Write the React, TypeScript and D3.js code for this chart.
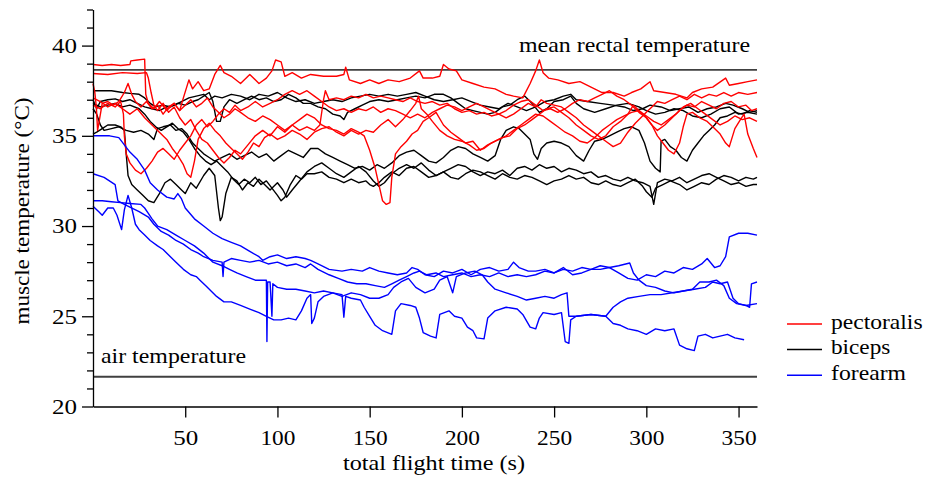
import React, { useRef, useEffect } from "react";
import * as d3 from "d3";

type Pt = [number, number]; // [total flight time s, muscle temperature °C]

// pectoralis traces (red)
const pect1: Pt[] = [[0,38.95],[5,38.9],[10,38.95],[15,38.9],[20,38.95],[20.5,39.15],[24,39.2],[28,39.25],[28.6,37.3],[30,36.8],[33,36.5],[36,36.9],[40,36.4],[44,36.8],[47,36.4],[49,37.1],[52,38.1],[54,37.6],[57,38.0],[60,37.5],[63,37.6],[66,38.4],[69,38.9],[71,38.5],[75,38.3],[80,37.9],[85,38.4],[90,37.9],[94,38.2],[97,38.6],[99,39.2],[102,39.1],[104,38.3],[108,38.5],[113,38.2],[118,38.4],[125,38.3],[132,38.3],[136,38.4],[137,38.8],[139,38.1],[145,37.9],[150,38.1],[155,37.9],[160,38.1],[166,38.0],[172,38.2],[177,38.6],[179,38.2],[184,38.2],[188,38.3],[190,38.95],[193,38.7],[197,38.6],[200,38.1],[206,37.9],[212,37.7],[218,37.6],[224,37.3],[228,37.2],[233,37.1],[237,37.9],[240,38.6],[242,39.2],[244,38.5],[247,38.2],[252,38.1],[258,37.9],[264,38.0],[270,37.7],[276,37.4],[282,37.4],[288,37.2],[292,37.4],[297,37.6],[302,38.0],[304,37.5],[310,37.4],[316,37.3],[322,37.1],[325,37.4],[330,37.6],[336,37.7],[343,38.2],[345,37.8],[350,37.9],[355,38.0],[360,38.1]];
const pect2: Pt[] = [[0,38.45],[8,38.4],[16,38.5],[24,38.45],[29,38.5],[30,38.2],[31.5,37.4],[33,36.7],[35,36.4],[38,36.8],[41,36.3],[44,36.6],[47,36.0],[50,35.6],[53,35.9],[56,35.3],[59,34.8],[62,34.6],[65,34.2],[68,33.8],[71,33.5],[74,33.8],[77,34.2],[80,34.0],[84,34.5],[88,35.0],[92,35.3],[96,35.0],[100,35.5],[104,35.2],[108,35.6],[112,35.3],[116,35.5],[120,35.3],[123,35.6],[125,37.0],[126,37.5],[128,37.0],[132,37.1],[136,37.0],[140,37.2],[144,37.1],[148,37.3],[152,37.1],[156,37.2],[160,37.1],[164,37.0],[168,36.9],[172,37.1],[176,36.9],[180,36.8],[184,36.9],[188,36.7],[192,36.8],[196,36.5],[200,36.3],[204,36.4],[208,36.2],[212,36.3],[216,36.1],[220,36.2],[224,36.0],[228,36.2],[232,36.5],[236,36.8],[240,36.6],[243,37.0],[246,36.8],[250,36.7],[254,36.6],[258,36.3],[262,36.0],[266,35.6],[270,35.3],[274,35.0],[278,34.7],[282,34.4],[286,34.6],[290,35.2],[294,35.7],[297,36.0],[300,36.3],[303,36.6],[306,36.9],[310,36.8],[314,37.0],[318,37.2],[322,37.0],[326,37.3],[330,37.1],[334,37.3],[338,37.2],[342,37.4],[346,37.2],[350,37.4],[355,37.3],[360,37.4]];
const pect3: Pt[] = [[0,37.9],[1,37.4],[1.8,36.6],[2.5,35.3],[3.5,35.9],[5,36.8],[8,36.9],[11,36.7],[14,36.9],[17,37.4],[19,37.9],[21,37.3],[23,36.9],[26,36.6],[29,36.9],[32,36.5],[35,36.7],[38,36.2],[41,36.6],[44,36.8],[47,36.4],[50,36.7],[53,37.0],[56,36.6],[59,36.8],[62,37.1],[65,36.6],[68,36.3],[71,36.0],[74,36.2],[77,36.5],[80,36.3],[84,36.0],[88,35.8],[92,36.1],[96,35.9],[100,35.6],[104,35.3],[108,35.6],[112,35.9],[116,36.2],[120,36.0],[124,35.6],[128,35.4],[132,35.3],[136,35.1],[140,35.4],[144,35.2],[147,35.0],[150,34.2],[153,33.2],[155,32.3],[157,31.4],[159,31.2],[161,31.3],[162,32.7],[164,34.0],[167,34.4],[170,34.7],[173,35.1],[176,35.3],[179,35.8],[182,36.0],[186,36.3],[190,35.6],[194,35.2],[198,34.9],[202,34.6],[206,34.7],[210,34.2],[214,34.5],[218,34.7],[222,34.9],[226,35.0],[230,35.4],[234,35.6],[238,35.9],[242,36.2],[246,36.5],[250,36.6],[254,36.3],[258,36.0],[262,35.6],[266,35.3],[270,35.0],[274,34.8],[278,35.0],[282,35.5],[286,35.8],[290,36.2],[293,36.7],[296,36.4],[300,36.0],[303,35.6],[306,35.0],[309,34.6],[312,34.2],[315,34.0],[318,34.6],[320,35.5],[322,36.2],[325,36.3],[329,36.0],[333,35.8],[337,35.4],[340,35.1],[343,34.6],[345,34.4],[348,35.4],[351,35.9],[353,36.2],[355,35.1],[358,34.3],[360,33.8]];
const pect4: Pt[] = [[0,37.1],[4,36.9],[8,36.6],[12,36.8],[16,36.5],[20,36.2],[24,36.5],[28,36.0],[32,35.6],[36,35.2],[40,34.8],[43,34.3],[46,33.9],[49,33.4],[51,32.9],[53,32.7],[55,33.6],[57,34.8],[60,35.4],[63,35.7],[66,35.3],[69,35.0],[72,34.6],[75,34.3],[78,34.0],[81,33.7],[84,34.1],[87,34.6],[90,34.4],[93,34.9],[96,35.1],[100,34.8],[104,35.0],[108,35.3],[112,35.1],[116,34.8],[120,35.2],[124,35.4],[128,35.5],[132,35.2],[136,35.0],[140,35.3],[144,35.1],[148,35.3],[152,35.2],[156,35.6],[160,35.9],[164,35.5],[168,35.9],[172,36.4],[175,36.8],[176.5,37.2],[178,36.5],[181,36.2],[184,35.8],[188,35.3],[192,35.0],[196,34.8],[200,34.7],[204,34.5],[208,34.2],[212,34.3],[216,34.6],[220,34.8],[224,35.0],[228,35.3],[232,35.6],[236,35.9],[240,36.2],[244,36.1],[248,35.8],[252,35.5],[256,35.2],[260,35.0],[264,34.7],[268,34.6],[272,34.9],[276,35.3],[280,35.6],[284,35.9],[288,36.1],[292,36.3],[296,36.4],[300,36.1],[304,35.8],[308,35.6],[312,35.9],[316,36.2],[320,36.6],[324,36.8],[328,36.5],[332,36.2],[336,35.9],[340,35.6],[344,35.8],[348,36.1],[352,35.9],[356,36.0],[360,35.8]];
const pect5: Pt[] = [[0,36.7],[4,36.5],[8,36.8],[12,36.6],[15,36.9],[16.5,36.2],[17,35.0],[18,34.0],[20,33.5],[23,33.1],[26,32.9],[29,33.2],[32,33.6],[35,34.1],[38,34.3],[41,34.0],[44,33.7],[47,34.2],[50,34.6],[53,35.0],[56,35.6],[59,35.9],[62,35.5],[65,35.8],[68,36.2],[71,36.5],[74,36.3],[77,36.7],[80,36.4],[84,36.6],[88,36.9],[92,36.6],[96,36.8],[100,37.0],[104,37.3],[108,37.5],[112,37.3],[116,37.5],[120,37.2],[124,36.9],[128,36.6],[132,36.4],[136,36.5],[140,36.3],[144,36.5],[148,36.4],[152,36.6],[156,36.3],[160,36.5],[164,36.4],[168,36.2],[172,36.0],[176,36.2],[180,36.0],[184,36.3],[188,36.5],[192,36.7],[196,36.6],[200,36.4],[204,36.6],[208,36.8],[212,36.6],[216,36.4],[220,36.2],[224,36.4],[228,36.7],[232,36.9],[236,37.0],[240,36.7],[244,36.4],[248,36.5],[252,36.3],[256,36.5],[260,36.8],[264,37.0],[268,36.9],[272,37.1],[276,37.3],[280,37.5],[284,37.2],[288,37.0],[292,36.7],[296,36.3],[300,36.0],[303,35.6],[306,35.3],[310,35.6],[314,36.0],[318,36.4],[322,36.7],[326,36.6],[330,36.9],[334,36.7],[338,36.5],[342,36.8],[346,36.9],[350,36.6],[354,36.7],[357,36.4],[360,36.5]];

// biceps traces (black)
const bic1: Pt[] = [[0,37.5],[5,37.5],[10,37.5],[16,37.4],[20,37.35],[25,37.3],[28,37.1],[31,36.8],[34,36.6],[38,36.7],[42,36.6],[46,36.8],[50,36.7],[54,36.9],[57,37.0],[60,37.2],[63,37.4],[65,36.9],[67,35.8],[69,35.8],[71,36.6],[74,37.0],[78,36.8],[82,37.0],[86,37.2],[90,37.0],[94,37.1],[98,36.9],[102,37.0],[106,37.3],[110,37.1],[114,36.8],[118,36.8],[122,36.6],[126,36.5],[130,36.2],[134,36.1],[136,35.9],[138,36.3],[142,36.5],[146,36.7],[150,36.9],[155,37.0],[160,36.9],[165,37.0],[170,37.1],[175,37.2],[180,37.1],[185,37.3],[190,37.3],[194,37.1],[198,36.8],[202,36.5],[206,36.4],[210,36.3],[214,36.2],[218,36.3],[222,36.6],[226,36.7],[230,37.0],[234,37.2],[238,36.8],[242,36.3],[246,36.5],[250,36.9],[255,37.0],[259,37.2],[262,36.8],[266,36.5],[272,36.3],[278,36.5],[284,36.7],[290,36.8],[296,36.6],[300,36.4],[305,36.2],[310,36.3],[315,36.5],[320,36.4],[325,36.1],[330,36.0],[335,36.2],[340,36.5],[345,36.6],[350,36.2],[355,36.3],[360,36.2]];
const bic2: Pt[] = [[0,37.0],[2,36.5],[4,36.9],[8,37.0],[12,37.05],[16,36.9],[20,37.0],[24,36.8],[28,36.6],[32,36.5],[36,36.4],[40,36.6],[44,36.7],[48,36.9],[52,37.1],[56,37.2],[60,37.3],[63,37.0],[66,37.2],[70,37.1],[75,37.3],[80,37.2],[85,37.0],[90,37.3],[95,37.2],[100,37.4],[105,37.1],[110,36.9],[115,37.0],[120,36.8],[125,36.9],[130,37.0],[135,36.9],[140,37.1],[145,37.2],[150,37.3],[155,37.2],[160,37.3],[165,37.2],[170,37.3],[175,37.4],[180,37.2],[185,37.0],[190,36.9],[195,37.0],[200,37.1],[205,36.9],[210,36.7],[215,36.6],[220,36.5],[225,36.8],[230,36.6],[235,36.4],[240,36.6],[245,36.9],[250,37.0],[255,37.2],[259,37.3],[262,37.0],[268,36.9],[275,36.8],[282,36.7],[288,36.6],[293,36.4],[298,36.5],[302,36.7],[308,36.6],[313,36.4],[318,36.5],[323,36.6],[328,36.3],[333,36.5],[338,36.6],[343,36.8],[347,36.7],[352,36.5],[356,36.3],[360,36.4]];
const bic3: Pt[] = [[0,35.1],[2,35.2],[5,35.4],[8,35.6],[12,35.6],[15,35.5],[17,35.3],[18,34.0],[19,32.8],[21,32.3],[24,32.0],[27,31.7],[30,31.4],[33,31.3],[36,31.8],[39,32.4],[42,32.6],[45,32.3],[48,32.0],[50,31.8],[53,32.4],[56,32.1],[60,32.8],[63,33.2],[66,32.8],[68,31.0],[69,30.3],[70,30.5],[72,31.8],[75,32.7],[78,32.5],[81,32.0],[84,32.4],[87,32.2],[90,32.6],[93,32.3],[96,32.0],[100,32.4],[103,32.0],[105,31.6],[108,32.0],[112,32.5],[116,33.0],[120,33.3],[124,33.5],[128,33.2],[132,32.9],[136,32.7],[140,33.0],[144,33.3],[148,33.0],[152,32.5],[155,32.2],[158,32.4],[162,32.9],[166,33.2],[170,33.4],[174,33.2],[178,33.5],[182,33.1],[186,32.8],[190,33.0],[194,33.2],[198,33.4],[202,33.3],[206,33.0],[210,32.8],[214,33.0],[218,32.9],[222,33.1],[226,32.8],[230,33.2],[234,33.3],[238,33.1],[242,33.4],[246,33.2],[250,33.3],[254,33.0],[258,33.2],[262,33.1],[266,32.9],[270,33.0],[274,32.7],[278,32.8],[282,32.6],[286,32.5],[290,32.7],[294,32.5],[298,32.4],[302,32.2],[304,31.2],[306,32.4],[310,32.6],[314,32.5],[318,32.7],[322,32.4],[326,32.6],[330,32.8],[334,32.9],[338,32.7],[342,32.5],[346,32.3],[350,32.4],[354,32.2],[358,32.3],[360,32.3]];
const bic4: Pt[] = [[0,36.5],[2,36.2],[4,35.6],[6,35.3],[10,35.4],[14,35.5],[18,35.3],[22,35.2],[26,35.3],[30,35.1],[33,34.8],[35,35.4],[38,35.5],[42,35.6],[45,35.3],[48,35.4],[51,35.1],[54,34.6],[57,34.3],[60,34.0],[63,33.8],[66,33.6],[70,33.8],[74,34.0],[78,33.7],[82,33.9],[86,34.1],[90,33.8],[94,34.0],[98,33.6],[102,33.9],[106,34.2],[110,34.0],[114,33.8],[118,34.3],[122,34.3],[126,34.0],[130,33.8],[134,33.6],[138,33.4],[142,33.2],[146,33.3],[150,33.1],[154,33.4],[158,33.2],[162,33.5],[166,33.9],[170,34.1],[174,34.2],[178,33.9],[182,33.6],[186,33.5],[190,33.8],[194,34.2],[198,34.4],[202,34.3],[206,34.0],[210,33.8],[214,33.6],[218,33.9],[221,34.8],[224,35.3],[228,35.5],[231,35.4],[234,35.1],[237,34.8],[239,34.0],[241,33.7],[243,34.3],[246,34.6],[250,34.7],[254,34.6],[258,34.4],[262,33.9],[266,33.6],[269,34.2],[272,34.7],[276,34.8],[280,35.0],[284,35.2],[288,35.4],[292,35.5],[296,35.3],[299,34.6],[302,33.6],[305,33.2],[307.5,33.0],[308,34.7],[310,34.8],[313,34.4],[316,34.2],[319,33.8],[322,33.6],[325,34.2],[328,34.6],[331,35.0],[334,35.3],[337,35.6],[340,36.0],[344,36.1],[348,36.3],[352,36.2],[356,36.4],[360,36.3]];
const bic5: Pt[] = [[0,36.8],[4,36.6],[8,36.7],[12,36.8],[16,36.6],[20,36.7],[25,36.5],[28,36.2],[31,35.8],[34,35.5],[37,35.3],[40,35.5],[43,35.7],[46,35.4],[49,35.2],[52,34.8],[55,34.3],[58,33.9],[61,33.6],[64,33.4],[67,33.6],[70,33.3],[73,33.0],[76,32.6],[79,32.3],[82,32.6],[85,32.4],[88,32.7],[91,32.3],[94,32.5],[97,32.1],[100,31.7],[102,31.4],[104,31.6],[107,32.3],[110,32.8],[113,32.6],[116,32.9],[120,32.9],[124,33.0],[128,32.7],[132,32.6],[136,32.4],[140,32.6],[144,32.4],[148,32.5],[150,32.3],[152,32.2],[155,32.4],[158,32.7],[162,33.0],[166,32.8],[170,33.2],[174,33.3],[178,33.0],[182,32.7],[186,32.8],[190,33.0],[194,32.7],[198,32.6],[202,32.9],[206,33.1],[210,33.0],[214,32.8],[218,32.6],[222,32.9],[226,32.7],[230,32.6],[234,32.8],[238,32.7],[242,32.5],[246,32.3],[250,32.5],[254,32.6],[258,32.8],[262,32.6],[266,32.7],[270,32.4],[274,32.3],[278,32.5],[282,32.3],[286,32.2],[290,32.4],[294,32.6],[298,32.2],[300,31.9],[303,31.6],[305,32.1],[309,32.3],[313,32.5],[318,32.3],[322,32.0],[326,32.2],[330,32.4],[334,32.3],[338,32.6],[342,32.8],[346,32.7],[350,32.5],[354,32.7],[358,32.6],[360,32.7]];

// forearm traces (blue)
const fore1: Pt[] = [[0,35.0],[5,35.0],[9,35.0],[14,34.9],[17,34.5],[20,34.1],[24,33.7],[28,33.1],[31,32.4],[35,32.0],[40,31.6],[44,31.5],[46,31.8],[48,31.5],[50,31.0],[55,30.4],[60,30.0],[65,29.6],[70,29.3],[75,29.1],[80,28.9],[85,28.6],[90,28.3],[92,28.1],[96,28.3],[100,28.4],[105,28.2],[110,28.3],[115,28.2],[118,28.1],[122,27.9],[128,27.6],[135,27.5],[140,27.6],[146,27.5],[150,27.7],[155,27.5],[160,27.4],[165,27.3],[170,27.4],[173,27.7],[176,27.6],[180,27.3],[185,27.2],[190,27.5],[195,27.4],[200,27.6],[205,27.3],[210,27.6],[215,27.7],[220,27.5],[225,27.6],[228,28.0],[231,27.7],[236,27.5],[240,27.5],[245,27.6],[250,27.4],[255,27.7],[260,27.3],[265,27.4],[270,27.6],[275,27.6],[280,27.7],[285,27.4],[290,27.1],[295,27.0],[300,27.3],[305,27.2],[310,27.5],[315,27.4],[320,27.7],[325,27.6],[330,27.9],[333,28.2],[337,27.7],[340,27.8],[343,28.3],[345,29.4],[350,29.6],[355,29.6],[360,29.5]];
const fore2: Pt[] = [[0,32.9],[6,32.7],[12,32.3],[13.5,31.4],[17,31.2],[20,31.05],[25,30.8],[30,30.5],[33,30.1],[37,29.7],[41,29.5],[45,29.2],[49,29.0],[53,28.7],[57,28.5],[60,28.3],[65,28.1],[70,28.0],[70.5,27.2],[71,28.0],[75,28.2],[80,28.1],[85,28.0],[90,28.1],[95,27.9],[100,28.0],[105,27.8],[110,27.9],[115,27.7],[118,27.9],[122,27.6],[128,27.3],[133,27.1],[138,26.9],[143,26.8],[148,26.8],[153,26.7],[158,26.6],[162,26.8],[166,27.0],[170,27.2],[174,27.4],[177,27.5],[181,27.3],[186,27.4],[190,27.2],[195,27.3],[200,27.4],[205,27.2],[210,27.3],[215,27.2],[220,27.4],[225,27.2],[230,27.3],[235,27.2],[240,27.3],[245,27.5],[250,27.4],[255,27.6],[260,27.5],[265,27.7],[270,27.6],[275,27.8],[280,27.7],[285,27.8],[291,27.95],[293,27.4],[296,27.0],[300,26.7],[305,26.6],[310,26.4],[315,26.3],[320,26.4],[325,26.5],[329,26.9],[334,26.9],[338,27.0],[342,26.7],[345,26.0],[349,25.7],[354,25.6],[360,25.7]];
const fore3: Pt[] = [[0,31.4],[5,31.4],[10,31.35],[15,31.3],[20,31.25],[26,31.2],[28,31.0],[30,30.7],[32,30.4],[35,30.0],[40,29.8],[45,29.5],[50,29.2],[55,28.9],[60,28.5],[65,28.0],[70,27.8],[74,27.6],[78,27.4],[83,27.2],[88,27.0],[92,27.0],[94,27.0],[94.3,23.6],[94.7,26.9],[96,26.9],[97,25.0],[97.5,26.8],[100,26.6],[105,26.5],[110,26.5],[115,26.4],[120,26.3],[125,26.4],[130,26.3],[135,26.1],[140,26.3],[145,26.2],[150,26.0],[155,26.0],[160,26.2],[163,26.6],[167,26.9],[171,27.1],[175,26.6],[180,26.3],[185,26.5],[188,27.0],[192,27.2],[195,26.3],[197,27.2],[202,27.4],[207,27.5],[211,27.3],[214,26.9],[218,26.5],[224,26.3],[230,26.1],[235,25.9],[240,26.0],[245,26.1],[250,26.0],[254,26.2],[257,26.3],[258,25.0],[262,25.0],[270,25.1],[278,25.0],[282,25.5],[286,25.8],[290,26.0],[296,26.1],[302,26.2],[308,26.2],[314,26.3],[320,26.4],[326,26.5],[332,26.6],[336,26.9],[340,26.8],[344,26.9],[347,26.0],[350,25.7],[354,25.6],[356,25.5],[357,26.8],[360,26.9]];
const fore4: Pt[] = [[0,31.1],[3,30.8],[5,30.6],[8,31.0],[11,31.0],[13,30.6],[15.5,29.8],[17,30.9],[19,31.7],[21,31.0],[23,30.1],[25,29.8],[28,29.5],[31,29.2],[35,28.9],[38,28.7],[41,28.4],[45,28.0],[49,27.6],[53,27.3],[56,27.2],[58,27.0],[61,26.7],[64,26.4],[67,26.1],[71,25.8],[75,25.8],[80,25.6],[85,25.4],[90,25.2],[94,25.0],[98,24.8],[102,24.8],[106,24.9],[110,24.8],[113,25.3],[116,26.0],[118,26.2],[118.6,24.6],[120,24.9],[122,25.8],[125,26.1],[130,26.3],[135,26.2],[136,24.95],[137,26.1],[140,26.0],[145,25.9],[147,25.5],[150,25.0],[153,24.5],[157,24.2],[162,24.0],[164,25.3],[167,25.7],[172,25.6],[175,25.5],[177,24.9],[179,24.1],[183,23.9],[186,23.8],[188,25.1],[193,25.3],[196,25.0],[200,24.9],[203,24.4],[206,24.2],[208,23.8],[212,23.75],[214,24.9],[218,25.3],[224,25.5],[230,25.4],[233,25.1],[237,24.4],[240,24.3],[242,24.9],[244,25.2],[250,25.1],[254,25.2],[256,23.6],[258,23.5],[259,24.8],[262,25.0],[270,25.1],[278,25.0],[282,24.6],[286,24.5],[290,24.3],[295,24.2],[300,24.0],[305,24.3],[310,24.2],[315,24.3],[318,23.4],[322,23.2],[326,23.1],[328,23.9],[332,24.0],[336,23.8],[340,23.9],[344,24.0],[348,23.8],[353,23.7]];

const pectoralis = [pect1, pect2, pect3, pect4, pect5];
const biceps = [bic1, bic2, bic3, bic4, bic5];
const forearm = [fore1, fore2, fore3, fore4];

const rectalTemp = 38.65;
const airTemp = 21.65;

const xTicks = [50, 100, 150, 200, 250, 300, 350];
const yMajor = [20, 25, 30, 35, 40];
const yMinor = [21, 22, 23, 24, 26, 27, 28, 29, 31, 32, 33, 34, 36, 37, 38, 39, 41, 42];

const legendNames = ["pectoralis", "biceps", "forearm"];
const legendColors = ["#ff0000", "#000000", "#0000ff"];

const FONT = "'Liberation Serif', 'Times New Roman', serif";

export default function App() {
  const svgRef = useRef<SVGSVGElement>(null);

  useEffect(() => {
    const svg = d3.select(svgRef.current);
    svg.selectAll("*").remove();

    const x = d3.scaleLinear().domain([0, 360]).range([93, 757]);
    const y = d3.scaleLinear().domain([20, 42]).range([406.5, 9.5]);

    // reference temperatures
    [rectalTemp, airTemp].forEach((t) => {
      svg.append("line")
        .attr("x1", x(0)).attr("x2", x(360))
        .attr("y1", y(t)).attr("y2", y(t))
        .attr("stroke", "#404040")
        .attr("stroke-width", 1.8);
    });

    const line = d3.line<Pt>().x((d) => x(d[0])).y((d) => y(d[1]));

    const groups: [Pt[][], string][] = [
      [biceps, "#000000"],
      [pectoralis, "#ff0000"],
      [forearm, "#0000ff"],
    ];
    groups.forEach(([series, color]) => {
      svg.append("g")
        .selectAll("path")
        .data(series)
        .join("path")
        .attr("d", (d) => line(d))
        .attr("fill", "none")
        .attr("stroke", color)
        .attr("stroke-width", 1.4)
        .attr("stroke-linejoin", "round");
    });

    // y axis
    const gy = svg.append("g").attr("transform", `translate(${x(0)},0)`);
    gy.call(
      d3.axisLeft(y).tickValues(yMajor).tickSize(11).tickSizeOuter(0).tickPadding(5)
        .tickFormat(d3.format("d"))
    );
    const gyMinor = svg.append("g").attr("transform", `translate(${x(0)},0)`);
    gyMinor.call(d3.axisLeft(y).tickValues(yMinor).tickSize(6).tickFormat(() => ""));
    gyMinor.select(".domain").remove();

    // x axis
    const gx = svg.append("g").attr("transform", `translate(0,${y(20)})`);
    gx.call(
      d3.axisBottom(x).tickValues(xTicks).tickSize(11).tickSizeOuter(0).tickPadding(13)
        .tickFormat(d3.format("d"))
    );

    [gy, gyMinor, gx].forEach((g) => {
      g.attr("font-family", FONT).attr("font-size", 21);
      g.selectAll("path, line").attr("stroke", "#000").attr("stroke-width", 1.3);
      g.selectAll("text")
        .attr("fill", "#000")
        .attr("textLength", (d: any) => (String(d).length === 2 ? 25 : 35))
        .attr("lengthAdjust", "spacingAndGlyphs");
    });

    const label = (txt: string, px: number, py: number, anchor: string, len: number) =>
      svg.append("text")
        .attr("x", px).attr("y", py)
        .attr("text-anchor", anchor)
        .attr("font-family", FONT)
        .attr("font-size", 21)
        .attr("textLength", len)
        .attr("lengthAdjust", "spacingAndGlyphs")
        .text(txt);

    label("mean rectal temperature", 750, 52, "end", 231);
    label("air temperature", 101, 363, "start", 145);
    label("total flight time (s)", 434, 470, "middle", 182);

    svg.append("text")
      .attr("transform", "translate(29,211) rotate(-90)")
      .attr("text-anchor", "middle")
      .attr("font-family", FONT)
      .attr("font-size", 21)
      .attr("textLength", 227)
      .attr("lengthAdjust", "spacingAndGlyphs")
      .text("muscle temperature (°C)");

    // legend
    const legendW = [91.6, 59.3, 75];
    legendNames.forEach((name, i) => {
      const ly = 324 + i * 25.6;
      svg.append("line")
        .attr("x1", 787).attr("x2", 822)
        .attr("y1", ly).attr("y2", ly)
        .attr("stroke", legendColors[i])
        .attr("stroke-width", 1.5);
      label(name, 831, ly + 4.5, "start", legendW[i]);
    });
  }, []);

  return (
    <svg
      ref={svgRef}
      width={925}
      height={479}
      style={{ position: "absolute", left: 0, top: 0, background: "#fff" }}
    />
  );
}
